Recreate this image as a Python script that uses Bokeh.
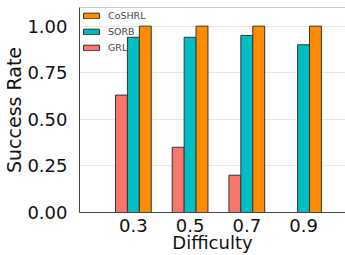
from bokeh.plotting import figure
from bokeh.models import (ColumnDataSource, FixedTicker, Legend, LegendItem, Span,
                          NumeralTickFormatter, Range1d)
from bokeh.transform import dodge
from bokeh.embed import file_html
from bokeh.resources import INLINE

categories = ["0.3", "0.5", "0.7", "0.9"]
grl = [0.63, 0.35, 0.20, 0.0]
sorb = [0.94, 0.94, 0.95, 0.90]
coshrl = [1.0, 1.0, 1.0, 1.0]
y_ticks = [0.0, 0.25, 0.5, 0.75, 1.0]

src = ColumnDataSource(dict(x=list(range(len(categories))), grl=grl, sorb=sorb, coshrl=coshrl))

p = figure(width=345, height=255, output_backend="svg", toolbar_location=None,
           x_range=Range1d(-0.95, 3.74), y_range=Range1d(0, 1.1),
           min_border_left=78, min_border_right=0, min_border_top=7, min_border_bottom=42)

bw = 0.21
r_grl = p.vbar(x=dodge("x", -bw, range=p.x_range), top="grl", width=bw, source=src,
               fill_color="#F8766D", line_color="#333333", line_width=1)
r_sorb = p.vbar(x=dodge("x", 0, range=p.x_range), top="sorb", width=bw, source=src,
                fill_color="#00BFC4", line_color="#333333", line_width=1)
r_cos = p.vbar(x=dodge("x", bw, range=p.x_range), top="coshrl", width=bw, source=src,
               fill_color="#FF8C00", line_color="#333333", line_width=1)

p.outline_line_color = None
p.add_layout(Span(location=1.1, dimension="width", line_color="#999999", line_width=1))

p.xaxis.ticker = FixedTicker(ticks=list(range(len(categories))))
p.xaxis.major_label_overrides = {i: c for i, c in enumerate(categories)}
p.yaxis.ticker = FixedTicker(ticks=y_ticks)
p.yaxis.formatter = NumeralTickFormatter(format="0.00")

for ax in (p.xaxis[0], p.yaxis[0]):
    ax.major_tick_line_color = None
    ax.minor_tick_line_color = None
    ax.axis_line_color = "#444444"
    ax.major_label_text_font = "DejaVu Sans"
    ax.major_label_text_font_size = "18px"
    ax.major_label_text_color = "#111111"
    ax.axis_label_text_font = "DejaVu Sans"
    ax.axis_label_text_font_size = "19px"
    ax.axis_label_text_font_style = "normal"
    ax.axis_label_text_color = "#111111"
    ax.major_label_standoff = 6
    ax.axis_label_standoff = -1

p.yaxis.axis_label = "Success Rate"
p.xaxis.axis_label = "Difficulty"
p.xaxis.axis_label_text_font_size = "18px"
p.xaxis.major_label_standoff = 0
p.xaxis.axis_label_standoff = -3

p.xgrid.grid_line_color = None
p.ygrid.ticker = FixedTicker(ticks=y_ticks)
p.ygrid.grid_line_color = "#e8e8e8"

legend = Legend(items=[LegendItem(label="CoSHRL", renderers=[r_cos]),
                       LegendItem(label="SORB", renderers=[r_sorb]),
                       LegendItem(label="GRL", renderers=[r_grl])],
                location="top_left", label_text_font="DejaVu Sans", label_text_font_size="9.5px",
                glyph_width=20, glyph_height=7, spacing=4, padding=4, margin=2,
                label_standoff=7, border_line_color=None, background_fill_alpha=0.0,
                label_height=12)
p.add_layout(legend)

open("out.html", "w").write(file_html(p, INLINE))
